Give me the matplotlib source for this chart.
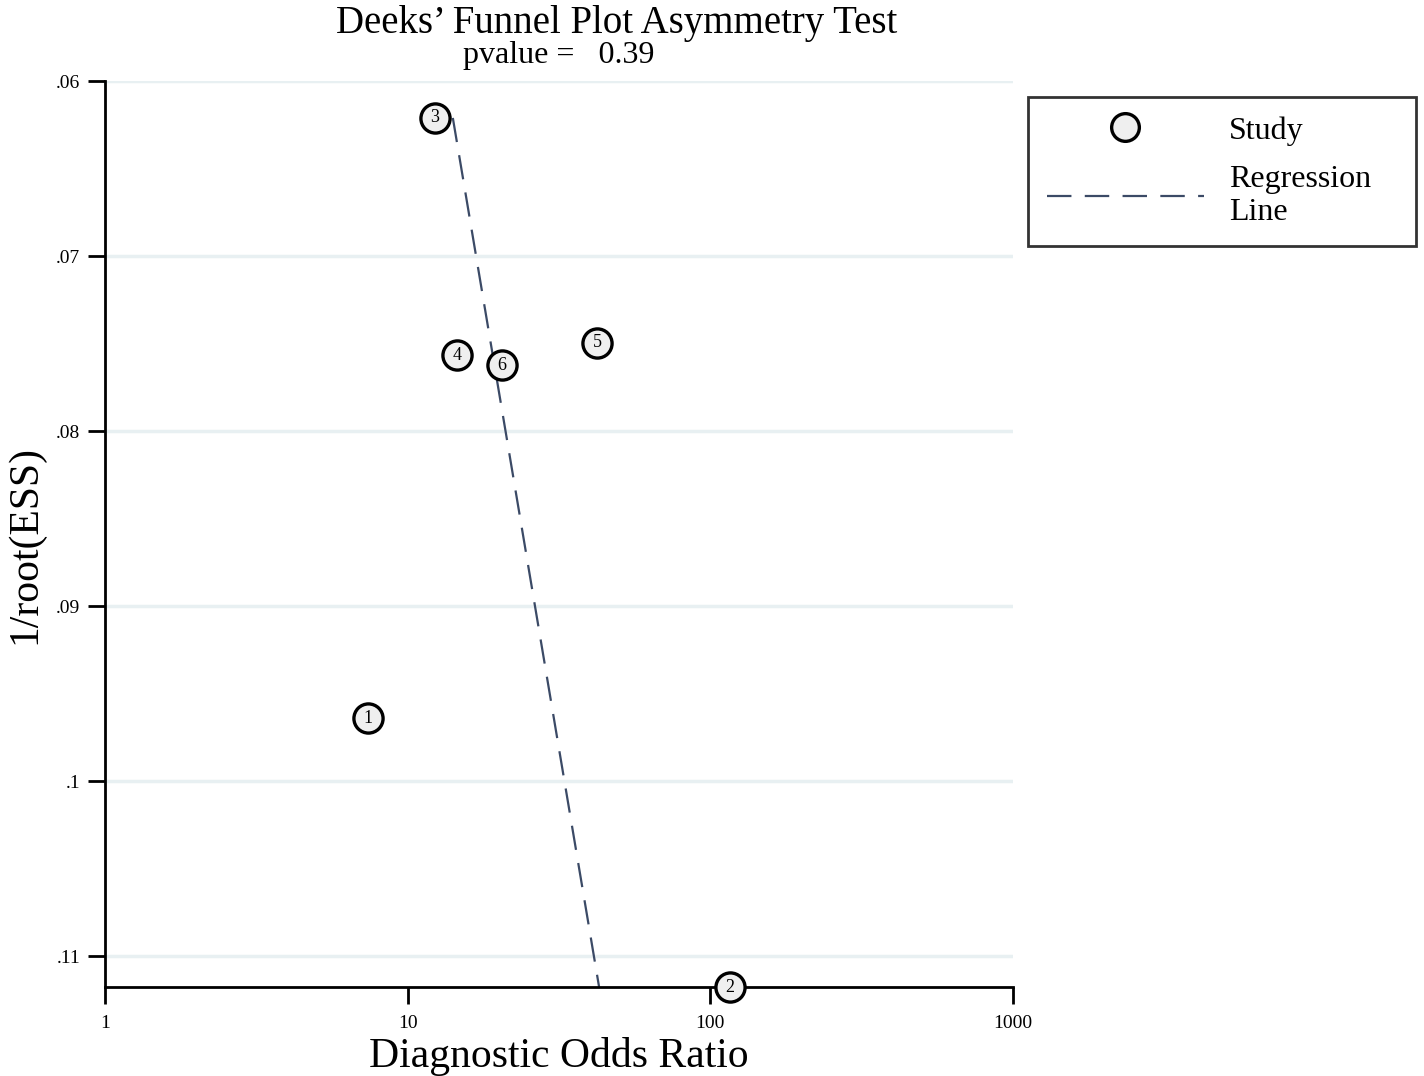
import matplotlib
matplotlib.use('Agg')
import matplotlib.pyplot as plt
import numpy as np

plt.rcParams['font.family'] = ['Liberation Serif', 'DejaVu Serif']

# study estimates
study_ids = ['1', '2', '3', '4', '5', '6']
dor = [7.4, 116, 12.3, 14.6, 42.2, 20.5]
inv_root_ess = [0.0964, 0.11177, 0.06211, 0.07566, 0.07497, 0.07623]

# regression line end points
reg_dor = [14.1, 42.9]
reg_y = [0.06211, 0.11177]

yticks = [0.06, 0.07, 0.08, 0.09, 0.10, 0.11]
ytick_labels = ['.06', '.07', '.08', '.09', '.1', '.11']
xticks = [1, 10, 100, 1000]
xtick_labels = ['1', '10', '100', '1000']

fig = plt.figure(figsize=(14.24, 10.76), dpi=100)
ax = fig.add_axes([105 / 1424, 1 - 987 / 1076, (1013 - 105) / 1424, (987 - 81) / 1076])

ax.set_xscale('log')
ax.set_xlim(1, 1000)
ax.set_ylim(0.11177, 0.06)

for y in yticks:
    ax.axhline(y, color='#e8f0f2', lw=2.5, zorder=0)

line, = ax.plot(reg_dor, reg_y, color='#3b4a66', lw=1.6, dashes=(11, 6), zorder=2,
                label='Regression\nLine')
pts, = ax.plot(dor, inv_root_ess, 'o', ms=21, mfc='#efefef', mec='black', mew=2.4,
               clip_on=False, zorder=5, label='Study', linestyle='none')
for sid, x, y in zip(study_ids, dor, inv_root_ess):
    ax.text(x, y, sid, ha='center', va='center', fontsize=13, zorder=6, clip_on=False)

for s in ['top', 'right']:
    ax.spines[s].set_visible(False)
for s in ['left', 'bottom']:
    ax.spines[s].set_linewidth(2)

ax.set_yticks(yticks)
ax.set_yticklabels(ytick_labels)
ax.set_xticks(xticks)
ax.set_xticklabels(xtick_labels)
ax.xaxis.set_minor_locator(matplotlib.ticker.NullLocator())
ax.tick_params(axis='both', length=12, width=2, labelsize=14, direction='out')
ax.tick_params(axis='y', pad=6)
ax.tick_params(axis='x', pad=8)

ax.set_xlabel('Diagnostic Odds Ratio', fontsize=30, labelpad=4)
fig.text(25 / 1424, 1 - 545 / 1076, '1/root(ESS)', rotation=90,
         ha='center', va='center', fontsize=30)

fig.text(617 / 1424, 1 - 24 / 1076, 'Deeks\u2019 Funnel Plot Asymmetry Test',
         ha='center', va='center', fontsize=28)
fig.text(559 / 1424, 1 - 56 / 1076, 'pvalue =   0.39', ha='center', va='center', fontsize=23)

leg = fig.legend(handles=[pts, line], loc='upper left',
                 bbox_to_anchor=(1028 / 1424, 1 - 243 / 1076, (1416 - 1028) / 1424, 146 / 1076),
                 mode='expand', borderaxespad=0,
                 fontsize=23, frameon=True, fancybox=False, edgecolor='black',
                 handlelength=4.9, handletextpad=0.8, borderpad=0.6,
                 labelspacing=0.6, markerscale=0.95)
leg.get_frame().set_linewidth(2)

fig.savefig('out.png', dpi=100)
